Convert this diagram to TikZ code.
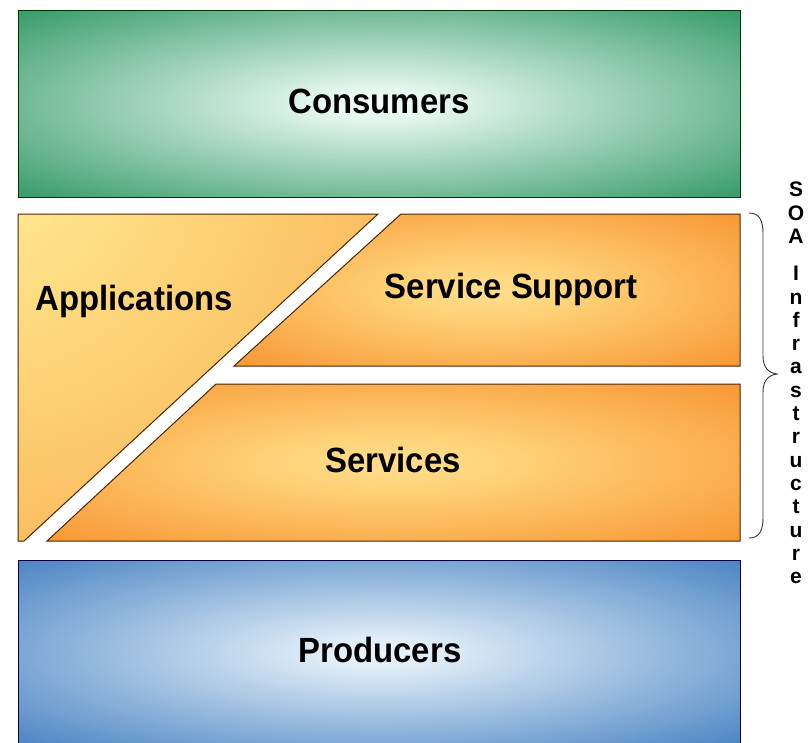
\documentclass[tikz,border=0pt]{standalone}
\usepackage{fontspec}
\setmainfont{Liberation Sans}
\newfontfamily\lblfont{Liberation Sans}[FakeStretch=0.94]
\pgfdeclareradialshading{greenglow}{\pgfpoint{0bp}{0bp}}{rgb(0bp)=(0.95,0.99,0.97); rgb(4bp)=(0.9,0.97,0.94); rgb(36bp)=(0.2,0.6,0.4); rgb(75bp)=(0.17,0.56,0.37)}
\pgfdeclareradialshading{blueglow}{\pgfpoint{0bp}{0bp}}{rgb(0bp)=(0.92,0.95,0.98); rgb(4bp)=(0.88,0.93,0.97); rgb(36bp)=(0.28,0.51,0.76); rgb(75bp)=(0.25,0.48,0.74)}
\pgfdeclareradialshading{orangeglow}{\pgfpoint{0bp}{0bp}}{rgb(0bp)=(1,0.87,0.56); rgb(8bp)=(1,0.83,0.48); rgb(38bp)=(0.97,0.57,0.18); rgb(75bp)=(0.96,0.55,0.15)}
\pgfdeclareradialshading{appglow}{\pgfpoint{-45bp}{45bp}}{rgb(0bp)=(1,0.97,0.66); rgb(20bp)=(1,0.9,0.55); rgb(90bp)=(0.97,0.58,0.2); rgb(150bp)=(0.96,0.55,0.15)}
\begin{document}
\begin{tikzpicture}[x=1pt,y=-1pt,
  lbl/.style={font=\lblfont\fontsize{35}{40}\selectfont\bfseries, inner sep=0pt, anchor=base},
  edge/.style={line width=1pt, line join=miter},
  sidetext/.style={font=\fontsize{21}{23.3}\selectfont\bfseries, align=center, inner sep=0pt, anchor=north}]
\useasboundingbox (0,0) rectangle (811,742);
\fill[white] (0,0) rectangle (811,742);
% Consumers
\shadedraw[shading=greenglow, edge, draw=black!80!green] (18,10) rectangle (740,197);
\node[lbl] (cons) at (379,113) {Consumers};
% Applications
\shadedraw[shading=appglow, edge, draw=black!70!orange] (18,214) -- (378,214) -- (24,541) -- (18,541) -- cycle;
\node[lbl] (app) at (134,310) {Applications};
% Service Support
\shadedraw[shading=orangeglow, edge, draw=black!70!orange] (401,214) -- (740,214) -- (740,366) -- (234,366) -- cycle;
\node[lbl] (supp) at (511,298) {Service Support};
% Services
\shadedraw[shading=orangeglow, edge, draw=black!70!orange] (216,384) -- (740,384) -- (740,541) -- (47,541) -- cycle;
\node[lbl] (serv) at (393,472) {Services};
% Producers
\shadedraw[shading=blueglow, edge, draw=black!75!blue] (18,560) rectangle (740,746);
\node[lbl] (prod) at (380,662) {Producers};
% brace
\draw[line width=0.9pt, black!80] (749,213) .. controls (759,213) and (763,220) .. (763,233) -- (763,356) .. controls (763,368) and (769,373) .. (777,374) .. controls (769,375) and (763,380) .. (763,392) -- (763,518) .. controls (763,531) and (759,538) .. (749,538);
\node[sidetext] (soa) at (796,182) {S\\O\\A\\[14pt]I\\n\\f\\r\\a\\s\\t\\r\\u\\c\\t\\u\\r\\e};
\end{tikzpicture}
\end{document}
